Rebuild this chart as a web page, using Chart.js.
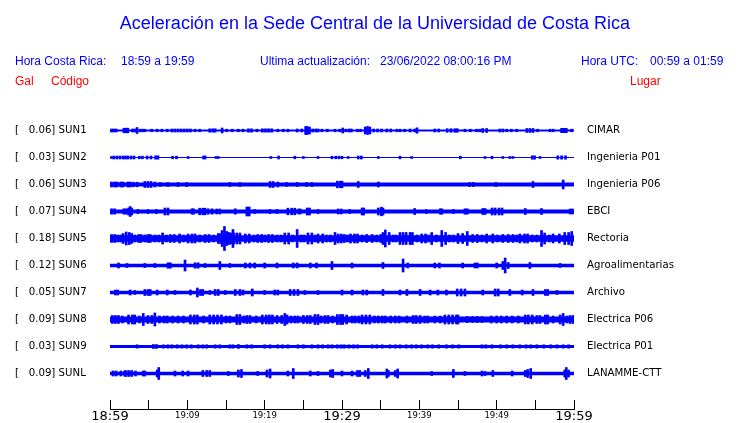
<!DOCTYPE html>
<html>
<head>
<meta charset="utf-8">
<script src="https://cdn.jsdelivr.net/npm/chart.js@4.4.1/dist/chart.umd.min.js"></script>
<style>
  body { margin: 0; background: #fff; }
  #wrap { position: relative; width: 740px; height: 423px; font-family: "Liberation Sans", Arial, sans-serif; }
  #wrap canvas { position: absolute; left: 0; top: 0; }
  .t { position: absolute; white-space: pre; font-size: 12px; line-height: 12px; }
  .blue { color: #0000ff; }
  .red { color: #ff0000; }
  #title { position: absolute; left: 0; width: 750px; top: 14px; text-align: center; font-size: 18px; line-height: 18px; color: #0000ff; }
</style>
</head>
<body>
<div id="wrap">
  <canvas id="seisChart" width="740" height="423"></canvas>
  <div id="title">Aceleración en la Sede Central de la Universidad de Costa Rica</div>
  <span class="t blue" style="left:15px;top:55px">Hora Costa Rica:</span>
  <span class="t blue" style="left:121px;top:55px">18:59 a 19:59</span>
  <span class="t blue" style="left:260px;top:55px">Ultima actualización:</span>
  <span class="t blue" style="left:380px;top:55px">23/06/2022 08:00:16 PM</span>
  <span class="t blue" style="left:581px;top:55px">Hora UTC:</span>
  <span class="t blue" style="left:650px;top:55px">00:59 a 01:59</span>
  <span class="t red" style="left:15px;top:75px">Gal</span>
  <span class="t red" style="left:51px;top:75px">Código</span>
  <span class="t red" style="left:630px;top:75px">Lugar</span>
</div>
<script>
// tick labels every 10 minutes from 18:59
var timeLabels = ["18:59", "19:09", "19:19", "19:29", "19:39", "19:49", "19:59"];

var stations = ["SUN1", "SUN2", "SUN3", "SUN4", "SUN5", "SUN6", "SUN7", "SUN8", "SUN9", "SUNL"];
var peaks = [0.06, 0.03, 0.06, 0.07, 0.18, 0.12, 0.05, 0.09, 0.03, 0.09];
var places = ["CIMAR", "Ingenieria P01", "Ingenieria P06", "EBCI", "Rectoria",
              "Agroalimentarias", "Archivo", "Electrica P06", "Electrica P01", "LANAMME-CTT"];

// background noise level of each trace (half width)
var noise = [0.9, 0.5, 2, 2, 3.2, 1.8, 1.8, 3, 1.5, 1.8];

// bursts: [minutes after 18:59, half amplitude]
var sun1 = [[0.2,1.5],[0.5,1.5],[0.8,1.5],[1.8,2.3],[2.1,2.3],[2.3,2.3],[2.9,1.5],[3.2,1.5],[3.5,3],[3.9,1.3],[4.2,1.3],[4.5,1.3],[5.4,1.3],[6.1,1.3],[6.7,1.3],[7.4,1.3],[8.0,1.5],[8.4,1.5],[8.8,1.5],[9.2,1.5],[9.6,1.5],[10.0,1.5],[10.4,1.5],[11.0,1.3],[11.6,1.3],[12.9,1.7],[13.3,1.7],[13.6,1.7],[14.5,2.5],[15.1,1.3],[15.8,1.3],[16.6,1.3],[17.2,1.3],[17.9,1.7],[18.3,1.7],[19.0,1.3],[19.7,1.7],[20.1,1.7],[20.5,1.7],[20.9,1.7],[21.7,1.3],[22.4,1.3],[23.0,1.3],[24.2,1.5],[24.8,1.5],[25.3,4],[25.5,4],[25.8,3.5],[26.2,1.5],[26.6,1.5],[26.9,1.5],[27.4,1.3],[28.1,1.3],[29.1,1.3],[29.7,1.3],[30.1,2.5],[30.5,1.3],[30.9,1.5],[31.2,1.5],[32.0,1.3],[32.4,1.3],[33.0,3.5],[33.3,4],[33.6,3.5],[34.1,1.5],[34.6,1.5],[35.1,1.5],[35.8,1.5],[36.3,1.5],[37.1,1.3],[37.5,1.3],[38.1,1.3],[38.8,1.5],[39.4,1.5],[39.7,2.7],[42.0,1.5],[42.5,1.5],[43.6,1.8],[44.1,1.8],[44.6,1.8],[44.9,1.8],[45.9,1.3],[46.6,1.3],[47.4,1.3],[47.8,1.3],[48.2,2],[48.7,2],[50.4,1.5],[50.8,1.5],[51.3,1.3],[51.9,1.3],[52.6,1.3],[53.9,2],[54.3,2],[54.7,2],[55.3,1.3],[56.9,1.3],[57.3,1.3],[58.4,2.2],[58.7,2.2],[59.0,2.2],[59.7,1.3]];
var sun2 = [[0.2,1],[0.5,1.5],[0.9,1.5],[1.3,1.5],[1.7,1.5],[2.0,1.5],[2.3,1.5],[2.7,1.5],[3.1,1.5],[3.8,1.3],[4.2,1.3],[4.8,1.5],[5.3,1.5],[5.9,1.7],[6.2,1.7],[8.1,1.3],[8.6,1.3],[10.1,1],[12.1,1.5],[12.3,1.5],[13.7,1],[14.0,1],[20.8,1],[21.8,1.5],[23.9,1.3],[25.0,1],[26.9,1],[28.7,1.3],[29.2,1.3],[29.6,1.3],[30.0,1.3],[30.8,1],[32.1,1.5],[32.5,1.5],[34.7,1],[37.5,1.3],[39.0,1],[45.3,1.3],[48.5,1],[49.4,1.3],[50.8,1],[51.7,1],[52.1,1],[54.6,1.7],[54.9,1.7],[55.6,1],[57.9,1.7],[58.4,1.7],[58.9,1.7]];
var sun3 = [[0.2,2.5],[0.6,2.5],[0.9,2.5],[1.4,2.5],[1.7,2.5],[2.3,2.5],[2.6,2.5],[3.0,2.3],[3.5,2.3],[4.5,3],[4.9,3],[5.3,3],[5.8,2.5],[6.5,2],[7.5,2],[8.8,2],[9.9,2],[15.5,2],[16.8,2],[20.7,3],[21.1,3],[21.7,2.5],[22.8,2],[24.2,2],[25.4,2],[26.1,2],[29.4,3.3],[29.8,3.3],[30.0,3.3],[32.1,3],[34.7,2.5],[46.5,2],[47.0,2],[49.9,2],[54.7,3],[58.6,4.5]];
var sun4 = [[0.2,2.7],[0.6,2.7],[1.8,2.7],[2.1,2.7],[2.4,3.5],[2.6,5],[2.8,3.5],[3.6,2],[4.9,2],[6.0,2],[7.1,3.5],[7.5,3.5],[10.6,2.7],[10.8,2.7],[11.6,3.3],[12.0,3.3],[12.3,3.3],[12.7,2.7],[13.2,2.7],[13.8,2.5],[14.2,2.5],[16.2,2.7],[17.7,4.5],[18.0,4.5],[18.7,2],[20.7,2],[21.6,2],[23.0,3.3],[23.5,3.3],[23.9,3.3],[24.4,2.5],[24.6,2.5],[25.5,3.5],[25.8,3.5],[26.9,2],[29.5,2.5],[29.9,2.5],[31.0,2],[32.6,3.5],[32.8,3.5],[34.7,3.5],[35.1,4.3],[35.3,3.5],[39.4,3],[40.9,2],[42.7,2.7],[42.9,2.7],[44.4,2],[45.9,2.7],[46.2,2.7],[48.2,3],[48.5,3],[49.4,3.5],[49.8,3.5],[50.3,3.5],[50.7,3.5],[53.7,3],[55.8,3],[59.5,2.5],[59.8,2.5]];
var sun5 = [[0.2,4],[0.6,4],[1.0,3.5],[1.4,3.5],[1.7,5],[2.1,6.5],[2.5,6],[2.8,5],[3.2,3.5],[3.7,4],[4.0,4],[4.5,3.5],[4.9,4],[5.2,4],[5.8,3.5],[6.3,3.5],[6.8,5.5],[7.3,3.5],[7.8,4],[8.3,4],[9.0,4.5],[9.5,3.5],[10.1,4.5],[10.6,4.5],[11.0,4.5],[11.6,3.5],[12.3,4],[12.8,4],[13.4,3.5],[14.0,5],[14.3,5],[14.5,8],[14.8,12],[15.1,7],[15.4,6],[15.6,5.5],[15.9,9],[16.0,5.5],[16.4,5.5],[16.8,5.5],[17.5,4.5],[18.0,4.5],[18.6,3.5],[19.1,4],[19.6,4],[20.0,3.5],[20.5,4],[21.0,4],[21.6,3.5],[22.1,3.5],[22.6,5.5],[23.1,5.5],[23.6,3.5],[24.2,9],[24.7,3.5],[25.1,3.5],[25.6,5.5],[26.1,5.5],[26.5,3.5],[26.9,4.5],[27.5,4.5],[28.0,3.5],[28.5,3.5],[29.1,6],[29.5,4.5],[29.9,4.5],[30.3,4],[30.7,3.5],[31.1,4.5],[31.6,4.5],[32.0,4.5],[32.6,3.5],[33.2,4],[33.9,4],[34.5,3.5],[35.0,4],[35.3,6],[35.6,8.5],[36.1,6],[36.6,3.5],[37.0,3.5],[37.5,6],[37.9,6],[38.3,6],[38.8,6],[39.1,6],[39.7,3.5],[40.3,4.5],[40.8,4.5],[41.2,3.5],[41.6,6],[42.2,3.5],[42.9,8],[43.4,6],[43.9,3.5],[44.4,3.5],[45.0,5],[45.6,5],[46.2,7],[46.9,4],[47.5,4],[48.1,3.5],[48.7,4.5],[49.5,4.5],[50.1,3.5],[50.8,4],[51.5,4],[52.1,4],[52.6,3.5],[53.0,4.5],[53.6,4.5],[54.0,4.5],[54.6,3.5],[55.2,3.5],[55.8,8],[56.2,5.5],[56.8,3.5],[57.3,4.5],[58.1,4.5],[58.8,6],[59.3,6],[59.7,7]];
var sun6 = [[1.1,2.5],[2.2,2],[4.5,2],[5.8,2],[7.5,2.7],[7.8,2.7],[9.7,5.5],[11.0,2.7],[11.4,2.7],[12.3,2],[14.2,4],[15.5,2],[17.5,2.5],[18.1,2.5],[18.7,2.5],[20.0,2.5],[21.6,2.5],[23.7,2.5],[24.2,2.5],[25.9,2.5],[26.7,2.5],[28.7,4],[31.3,2.5],[35.3,3],[37.9,6.5],[38.5,2.5],[42.0,2.5],[42.6,2.5],[45.6,2.5],[47.2,2.5],[47.5,2.5],[50.0,2.5],[50.8,4],[51.1,7.5],[51.5,3],[54.3,3],[58.2,2]];
var sun7 = [[0.7,2.5],[1.0,2.5],[2.6,2.5],[3.2,2],[4.5,3],[4.9,3],[5.2,3],[6.1,2.5],[7.4,2.5],[8.4,2],[10.4,2.5],[11.3,4.5],[11.7,3],[12.0,3],[12.9,2],[13.6,3],[14.0,3],[14.9,2],[16.2,3],[16.8,3],[17.2,2.5],[18.4,3.5],[20.0,2],[21.3,2.5],[21.7,2.5],[23.3,3],[23.8,3],[24.3,3],[25.2,2],[26.9,2],[30.0,2.5],[31.3,2.5],[32.7,2.5],[33.2,2.5],[35.3,3],[37.5,2.5],[38.4,3],[40.1,3],[41.4,2.5],[42.4,2.5],[43.5,2.5],[44.9,3.5],[45.4,3.5],[45.9,3.5],[48.2,2.5],[49.8,3.5],[50.2,3.5],[51.7,3],[53.3,2.5],[54.7,3],[56.3,3],[56.6,3],[57.8,2]];
var sun8 = [[0.3,4],[0.7,4],[1.1,4],[1.6,3.5],[2.4,4.5],[2.9,4.5],[3.2,4.5],[3.8,3.5],[4.3,6],[4.9,4],[5.4,4],[5.8,6.5],[6.4,3.5],[7.0,3.5],[7.4,3.5],[8.1,3.5],[8.8,3.5],[9.5,3.5],[10.4,4.5],[10.9,4.5],[11.3,4.5],[12.1,3.5],[12.9,4.5],[13.4,4.5],[13.9,4.5],[14.4,4.5],[15.0,3.5],[15.5,3.5],[16.4,5],[16.8,5],[17.3,3.5],[17.7,4],[18.1,4],[18.9,3.5],[19.7,4.5],[20.2,4.5],[20.6,4.5],[21.0,4.5],[21.6,4],[22.2,4],[22.6,6],[22.9,4.5],[23.4,3.5],[23.9,3.5],[24.3,3.5],[25.0,4],[25.5,4],[25.9,4],[26.5,5],[26.9,5],[27.3,3.5],[27.8,4],[28.2,4],[28.8,3.5],[29.4,5],[29.8,5],[30.1,5],[30.6,4.5],[31.3,3.5],[31.7,3.5],[32.2,3.5],[32.6,4.5],[33.1,4.5],[33.6,4.5],[34.2,3.5],[34.7,3.5],[35.2,3.5],[35.6,3.5],[36.3,3.5],[36.9,3.5],[37.4,3.5],[38.4,3.5],[39.2,4],[39.6,4],[40.1,4],[40.7,3.5],[41.1,3.5],[42.0,3.5],[42.7,3.5],[43.3,4.5],[43.8,4.5],[44.3,4.5],[44.8,4.5],[45.0,4.5],[46.2,3],[46.9,3],[47.5,3],[48.1,3],[49.3,3.5],[50.0,3.5],[50.6,3.5],[51.3,3.5],[52.0,3.5],[52.8,3.5],[53.7,4.5],[54.1,4.5],[54.6,4.5],[55.2,4],[55.6,4],[56.3,4.5],[56.6,4.5],[57.3,3.5],[58.2,4.5],[58.6,6],[59.1,3.5],[59.5,4],[59.9,4]];
var sun9 = [[3.5,1.7],[5.6,2],[6.0,2],[6.9,1.7],[7.5,1.7],[8.0,1.7],[8.7,1.7],[9.3,1.7],[9.9,1.7],[10.5,1.7],[11.4,1.7],[12.0,1.7],[12.5,1.7],[13.6,1.7],[14.2,1.7],[15.5,1.7],[15.9,1.7],[16.6,2],[17.7,1.7],[18.3,1.7],[20.0,1.7],[20.7,1.7],[21.7,1.7],[22.3,1.7],[23.0,1.7],[24.3,1.7],[25.0,1.7],[26.1,1.7],[26.9,1.7],[27.5,1.7],[28.2,1.7],[28.7,1.7],[29.4,1.7],[29.9,1.7],[30.3,1.7],[30.9,1.7],[31.5,1.7],[32.0,1.7],[33.9,1.7],[34.5,1.7],[35.2,1.7],[36.2,1.7],[36.9,1.7],[37.5,1.7],[38.3,1.7],[39.0,1.7],[39.6,1.7],[40.3,1.7],[41.1,1.7],[41.7,1.7],[42.5,1.7],[43.5,1.7],[44.3,1.7],[45.1,1.7],[48.1,1.7],[48.6,1.7],[49.4,1.7],[50.5,1.7],[51.3,1.7],[52.1,1.7],[53.0,1.7],[53.8,1.7],[54.4,1.7],[55.2,1.7],[56.1,1.7],[57.0,1.7],[57.8,1.7],[58.6,1.7],[59.3,1.7]];
var sunL = [[0.4,2.5],[0.8,2.5],[1.4,2.5],[1.9,2.5],[2.0,3],[2.4,3],[2.8,3],[3.3,2.5],[4.3,2.5],[4.5,2.5],[6.1,3.5],[6.3,6],[8.4,2.5],[9.4,2.5],[10.1,2.5],[12.0,3],[12.5,3],[12.9,3],[15.3,2],[16.6,3.5],[17.0,4],[19.1,2],[20.3,3.5],[20.7,4.5],[23.0,2.5],[23.7,5],[25.9,2.5],[26.9,2],[28.5,3.5],[28.8,4],[30.0,2.5],[31.3,2.5],[32.0,3],[32.3,3],[33.0,3],[33.4,5],[35.8,4.5],[36.0,3],[36.9,3],[37.2,4.5],[41.6,2],[44.4,4],[45.9,2],[48.1,2.5],[48.5,2],[49.5,3],[52.0,2.5],[53.7,3],[54.0,4],[54.4,5],[58.8,3.5],[59.0,6],[59.3,3.5]];

var traces = [sun1, sun2, sun3, sun4, sun5, sun6, sun7, sun8, sun9, sunL];

var BLUE = "#0000ff";
var Y_MAX = 309;       // plot height in px, so one y unit is one pixel
var FIRST = 278.5;     // centre line of the top trace
var GAP = 27;          // distance between traces

var centres = stations.map(function (s, i) { return FIRST - i * GAP; });

var datasets = [];
traces.forEach(function (ev, i) {
    var c = centres[i];
    // noise band: fill between two flat lines
    datasets.push({
        type: 'line', data: [{x: 0, y: c + noise[i]}, {x: 60, y: c + noise[i]}],
        borderColor: 'rgba(0,0,0,0)', borderWidth: 0, pointRadius: 0, fill: false
    });
    datasets.push({
        type: 'line', data: [{x: 0, y: c - noise[i]}, {x: 60, y: c - noise[i]}],
        borderColor: 'rgba(0,0,0,0)', borderWidth: 0, pointRadius: 0,
        fill: '-1', backgroundColor: BLUE
    });
    datasets.push({
        type: 'bar',
        data: ev.map(function (e) { return {x: e[0], y: [c - e[1], c + e[1]]}; }),
        backgroundColor: BLUE, barThickness: 2, stack: 'ev'
    });
});

var leftLabels = stations.map(function (s, i) { return "[   " + peaks[i].toFixed(2) + "] " + s; });

function setCentreTicks(scale) {
    scale.ticks = centres.map(function (v) { return {value: v}; });
}

var labelFont = {family: "DejaVu Sans", size: 10.2};

var ctx = document.getElementById("seisChart").getContext("2d");
new Chart(ctx, {
    type: 'line',
    data: {datasets: datasets},
    options: {
        responsive: false,
        animation: false,
        events: [],
        layout: {padding: {left: 15, right: 0, top: 100, bottom: 0}},
        plugins: {legend: {display: false}, tooltip: {enabled: false}},
        scales: {
            x: {
                type: 'linear', min: 0, max: 60, offset: false,
                grid: {drawOnChartArea: false, drawTicks: true, tickLength: -9, color: '#000', offset: false},
                border: {display: true, color: '#000', width: 1},
                ticks: {
                    stepSize: 5, autoSkip: false, maxRotation: 0, padding: 8.6, color: '#000',
                    callback: function (v) { return v % 10 === 0 ? timeLabels[v / 10] : ''; },
                    font: function (c) {
                        var big = c.tick && c.tick.value % 30 === 0;
                        return big ? {family: "DejaVu Sans", size: 13, lineHeight: 1.2}
                                   : {family: "DejaVu Sans", size: 8.5, lineHeight: 1.58};
                    }
                },
                afterFit: function (s) { s.height = 14; }
            },
            y: {
                type: 'linear', position: 'left', min: 0, max: Y_MAX, stacked: false,
                grid: {display: false, drawTicks: false},
                border: {display: false},
                afterBuildTicks: setCentreTicks,
                ticks: {
                    autoSkip: false, crossAlign: 'far', padding: 0, color: '#000', font: labelFont,
                    callback: function (v, i) { return leftLabels[i]; }
                },
                afterFit: function (s) { s.width = 95; }
            },
            y2: {
                type: 'linear', position: 'right', min: 0, max: Y_MAX,
                grid: {display: false, drawTicks: true, tickLength: 13},
                border: {display: false},
                afterBuildTicks: setCentreTicks,
                ticks: {
                    autoSkip: false, padding: 0, color: '#000', font: labelFont,
                    callback: function (v, i) { return places[i]; }
                },
                afterFit: function (s) { s.width = 166; }
            }
        }
    }
});
</script>
</body>
</html>
